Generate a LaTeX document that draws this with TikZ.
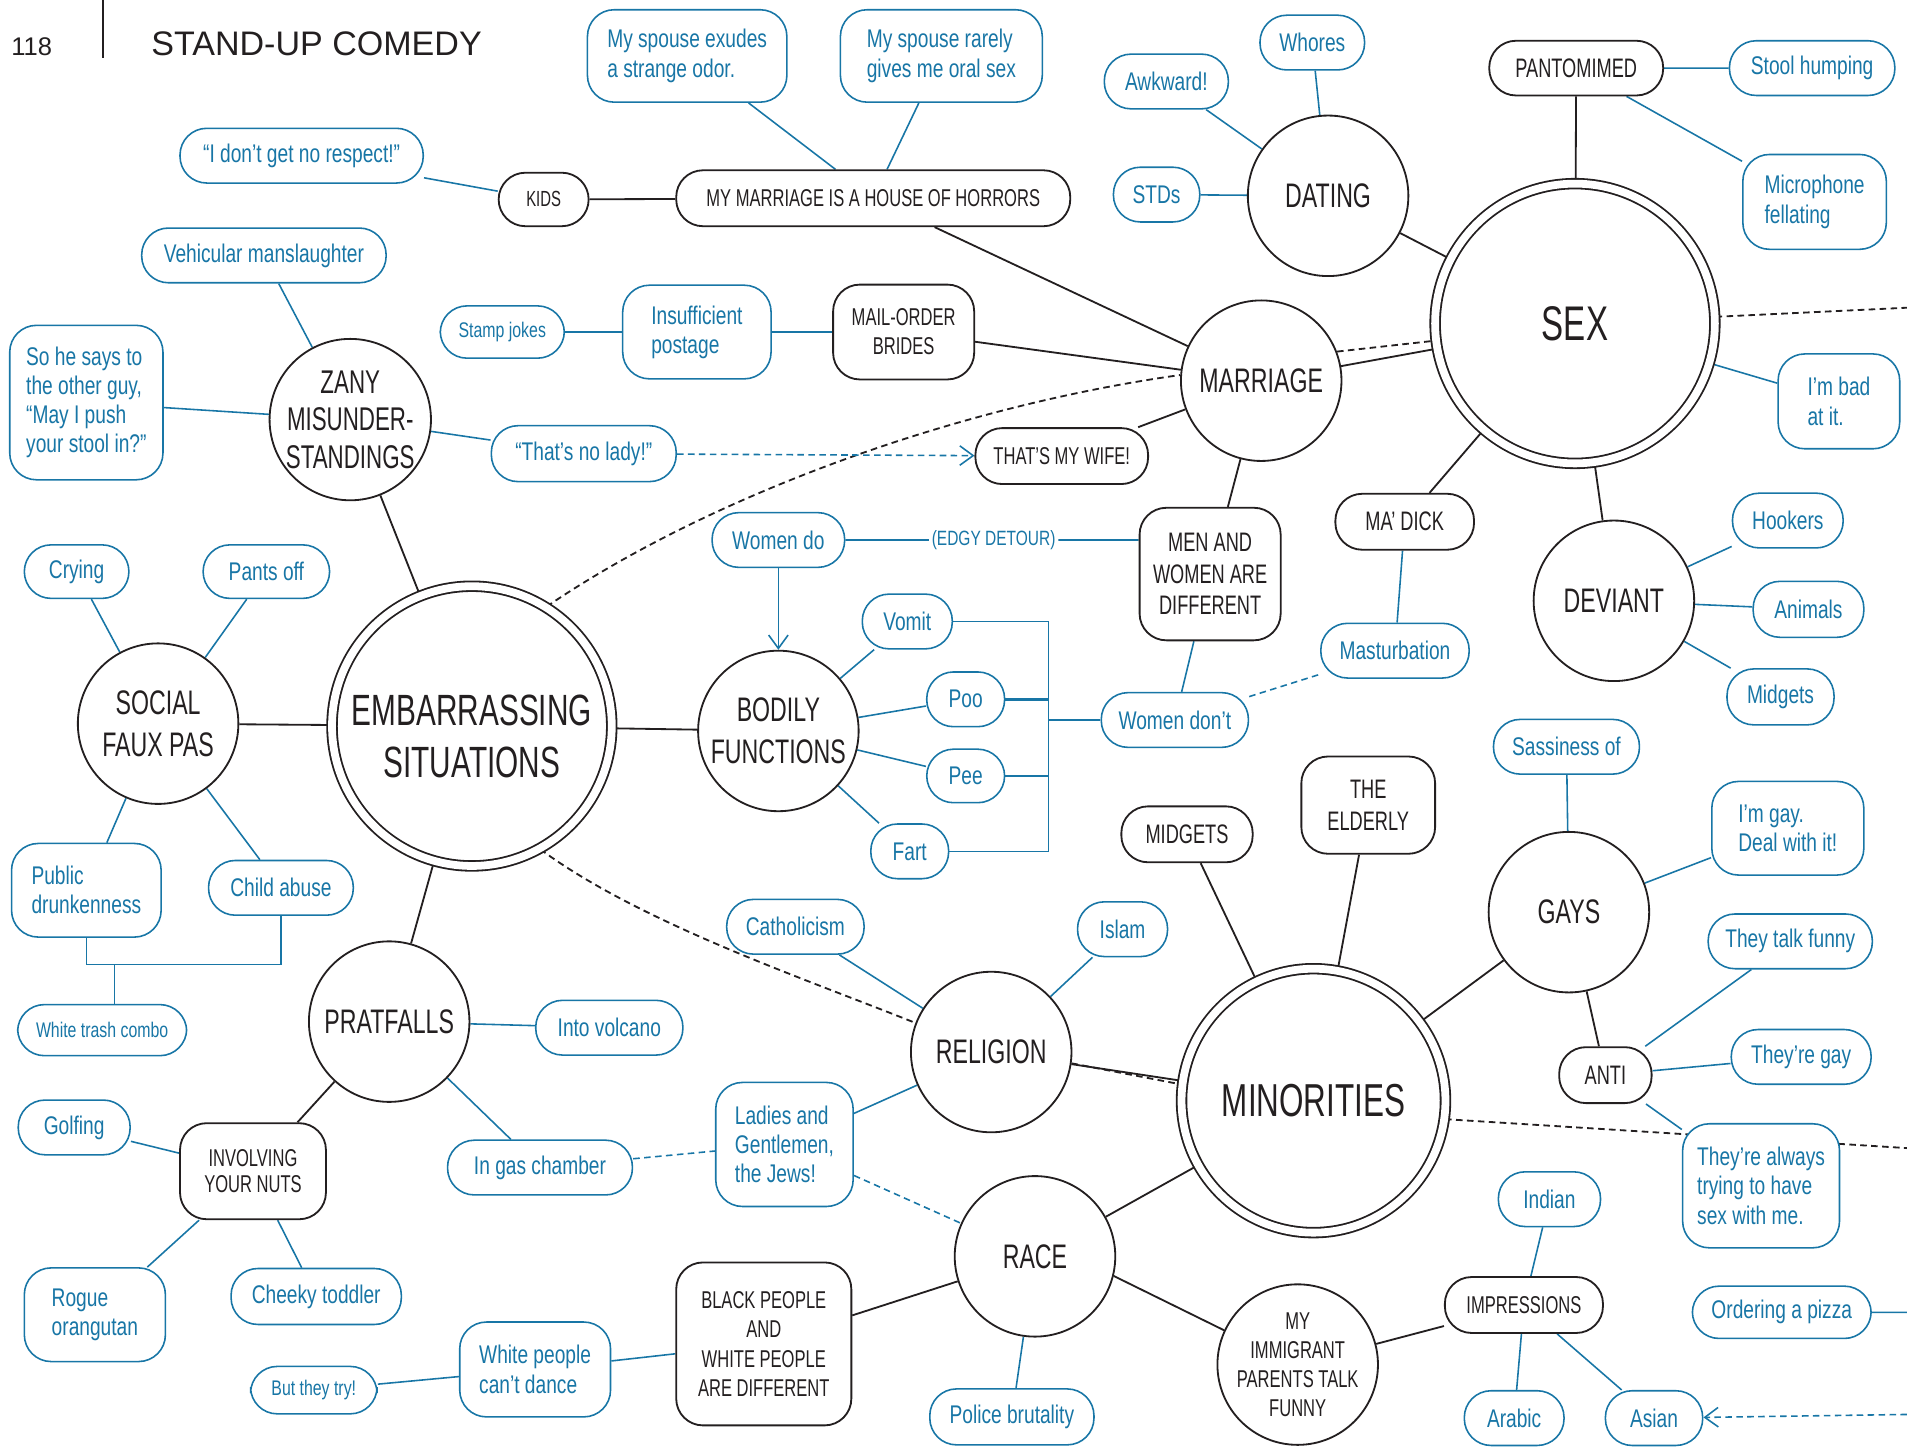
\documentclass[tikz,border=0pt]{standalone}
\usepackage{fontspec}
\setmainfont{Liberation Sans}
\newfontfamily\jokefont[FakeStretch=0.75]{Liberation Sans}
\newfontfamily\topicfont[FakeStretch=0.68]{Liberation Sans}
\usetikzlibrary{arrows.meta, backgrounds}
\definecolor{ink}{RGB}{35,31,32}
\definecolor{jokeblue}{RGB}{24,118,166}

\begin{document}
\begin{tikzpicture}[x=0.5pt, y=-0.5pt,
    sz/.style 2 args={minimum width=#1*0.5pt, minimum height=#2*0.5pt},
    topic/.style={circle, draw=ink, line width=0.75pt, fill=white, text=ink, align=center,
      inner sep=0pt, minimum size=66pt, font=\topicfont\fontsize{14}{16.5}\selectfont},
    big topic/.style={topic, double, double distance=3.2pt, minimum size=115pt},
    bit/.style={draw=ink, line width=0.75pt, fill=white, text=ink, rounded corners=11pt,
      align=center, inner sep=1pt, font=\topicfont\fontsize{10}{12}\selectfont},
    big bit/.style={bit, font=\topicfont\fontsize{11}{13}\selectfont},
    joke/.style={draw=jokeblue, line width=0.65pt, fill=white, text=jokeblue, rounded corners=11pt,
      align=left, inner sep=1pt, font=\jokefont\fontsize{10.5}{12}\selectfont},
    small joke/.style={joke, font=\jokefont\fontsize{8.7}{10}\selectfont},
    link/.style={draw=ink, line width=0.75pt},
    blink/.style={draw=jokeblue, line width=0.65pt},
    dashy/.style={dash pattern=on 2.7pt off 1.8pt},
    toward/.style={-{Straight Barb[length=5.5pt, width=8pt]}}
  ]
  \useasboundingbox (0,0) rectangle (1568,1189);

  % page head
  \node[text=ink, font=\fontsize{10.5}{12}\selectfont] (page) at (26,38) {118};
  \node[anchor=west, inner sep=0pt, text=ink, font=\fontsize{14}{16}\selectfont] (title) at (124,36) {STAND-UP COMEDY};
  \draw[ink, line width=0.9pt] (85,0) -- (85,48);

  % main topics
  \node[big topic, font=\topicfont\fontsize{18}{21.5}\selectfont] (emb) at (388,597) {\rule{0pt}{21pt}EMBARRASSING\\SITUATIONS};
  \node[big topic, font=\topicfont\fontsize{20}{24}\selectfont] (sex) at (1295,266) {SEX};
  \node[big topic, minimum size=108.5pt, font=\topicfont\fontsize{19}{22}\selectfont] (minor) at (1080,905) {MINORITIES};

  \node[topic] (marriage) at (1037,313) {MARRIAGE};
  \node[topic] (dating) at (1092,161) {DATING};
  \node[topic] (deviant) at (1327,494) {DEVIANT};
  \node[topic, font=\topicfont\fontsize{13.5}{15.5}\selectfont] (zany) at (288,345) {ZANY\\MISUNDER-\\STANDINGS};
  \node[topic, font=\topicfont\fontsize{14}{17}\selectfont] (social) at (130,595) {SOCIAL\\FAUX PAS};
  \node[topic, font=\topicfont\fontsize{14}{17}\selectfont] (bodily) at (640,601) {BODILY\\FUNCTIONS};
  \node[topic] (pratfalls) at (320,840) {PRATFALLS};
  \node[topic] (religion) at (815,865) {RELIGION};
  \node[topic] (race) at (851,1033) {RACE};
  \node[topic] (gays) at (1290,750) {GAYS};
  \node[topic, font=\topicfont\fontsize{10}{12}\selectfont] (immigrant) at (1067,1122) {MY\\IMMIGRANT\\PARENTS TALK\\FUNNY};

  % sub topics
  \node[bit, sz={74}{44}, font=\topicfont\fontsize{9}{11}\selectfont] (kids) at (447,164) {KIDS};
  \node[bit, sz={324}{46}] (horrors) at (718,163) {MY MARRIAGE IS A HOUSE OF HORRORS};
  \node[bit, sz={116}{78}] (brides) at (743,273) {MAIL-ORDER\\BRIDES};
  \node[bit, sz={142}{46}] (wife) at (873,375) {THAT’S MY WIFE!};
  \node[big bit, sz={116}{109}] (menwomen) at (995,472) {MEN AND\\WOMEN ARE\\DIFFERENT};
  \node[big bit, sz={114}{46}] (madick) at (1155,429) {MA’ DICK};
  \node[big bit, sz={143}{45}] (panto) at (1296,56) {PANTOMIMED};
  \node[big bit, sz={108}{46}] (midgets) at (976,686) {MIDGETS};
  \node[big bit, sz={110}{80}] (elderly) at (1125,662) {THE\\ELDERLY};
  \node[big bit, sz={76}{46}] (anti) at (1320,884) {ANTI};
  \node[bit, sz={120}{79}, font=\topicfont\fontsize{10}{11}\selectfont] (nuts) at (208,963) {INVOLVING\\YOUR NUTS};
  \node[bit, sz={144}{134}] (blackwhite) at (628,1105) {BLACK PEOPLE\\AND\\WHITE PEOPLE\\ARE DIFFERENT};
  \node[bit, sz={130}{46}] (impress) at (1253,1073) {IMPRESSIONS};

  % jokes
  \node[joke, sz={164}{76}] (odor) at (565,46) {My spouse exudes\\a strange odor.};
  \node[joke, sz={166}{76}] (oral) at (774,46) {My spouse rarely\\gives me oral sex};
  \node[joke, sz={86}{45}] (whores) at (1079,35) {Whores};
  \node[joke, sz={102}{45}] (awkward) at (959,67) {Awkward!};
  \node[joke, sz={71}{45}] (stds) at (951,160) {STDs};
  \node[joke, sz={136}{45}] (stool) at (1490,56) {Stool humping};
  \node[joke, sz={118}{78}] (micro) at (1492,166) {Microphone\\fellating};
  \node[joke, sz={100}{78}] (badatit) at (1512,330) {I’m bad\\at it.};
  \node[joke, sz={91}{45}] (hookers) at (1470,428) {Hookers};
  \node[joke, sz={91}{46}] (animals) at (1487,501) {Animals};
  \node[joke, sz={88}{46}] (midgetjoke) at (1464,573) {Midgets};
  \node[joke, sz={200}{45}] (respect) at (248,128) {“I don’t get no respect!”};
  \node[joke, sz={201}{45}] (vehicular) at (217,210) {Vehicular manslaughter};
  \node[small joke, sz={102}{43}] (stamp) at (413,273) {Stamp jokes};
  \node[joke, sz={122}{77}] (postage) at (573,273) {Insufficient\\postage};
  \node[joke, sz={126}{127}] (pushstool) at (71,331) {So he says to\\the other guy,\\“May I push\\your stool in?”};
  \node[joke, sz={152}{46}] (nolady) at (480,373) {“That’s no lady!”};
  \node[joke, sz={109}{45}] (womendo) at (640,444) {Women do};
  \node[text=jokeblue, inner sep=1pt, font=\jokefont\fontsize{8.5}{10}\selectfont] (edgy) at (817,444) {(EDGY DETOUR)};
  \node[joke, sz={74}{45}] (vomit) at (746,511) {Vomit};
  \node[joke, sz={64}{45}] (poo) at (794,575) {Poo};
  \node[joke, sz={64}{44}] (pee) at (794,638) {Pee};
  \node[joke, sz={64}{45}] (fart) at (748,700) {Fart};
  \node[joke, sz={121}{45}] (womendont) at (966,592) {Women don’t};
  \node[joke, sz={122}{45}] (mastur) at (1147,535) {Masturbation};
  \node[joke, sz={86}{44}] (crying) at (63,470) {Crying};
  \node[joke, sz={104}{44}] (pantsoff) at (219,470) {Pants off};
  \node[joke, sz={123}{77}] (drunk) at (71,732) {Public\\drunkenness};
  \node[joke, sz={119}{45}] (childabuse) at (231,730) {Child abuse};
  \node[small joke, sz={139}{42}] (trash) at (84,847) {White trash combo};
  \node[joke, sz={92}{45}] (golfing) at (61,927) {Golfing};
  \node[joke, sz={116}{77}] (orangutan) at (78,1081) {Rogue\\orangutan};
  \node[joke, sz={140}{46}] (toddler) at (260,1066) {Cheeky toddler};
  \node[small joke, sz={104}{39}] (theytry) at (258,1143) {But they try!};
  \node[joke, sz={124}{78}] (dance) at (440,1126) {White people\\can’t dance};
  \node[joke, sz={121}{45}] (volcano) at (501,845) {Into volcano};
  \node[joke, sz={152}{45}] (gas) at (444,960) {In gas chamber};
  \node[joke, sz={113}{45}] (catholic) at (654,762) {Catholicism};
  \node[joke, sz={74}{45}] (islam) at (923,764) {Islam};
  \node[joke, sz={113}{102}] (jews) at (645,941) {Ladies and\\Gentlemen,\\the Jews!};
  \node[joke, sz={135}{46}] (police) at (832,1165) {Police brutality};
  \node[joke, sz={120}{45}] (sassy) at (1288,614) {Sassiness of};
  \node[joke, sz={125}{77}] (dealwith) at (1470,681) {I’m gay.\\Deal with it!};
  \node[joke, sz={135}{45}] (talkfunny) at (1472,774) {They talk funny};
  \node[joke, sz={115}{45}] (theyregay) at (1481,869) {They’re gay};
  \node[joke, sz={129}{102}] (always) at (1448,975) {They’re always\\trying to have\\sex with me.};
  \node[joke, sz={84}{45}] (indian) at (1274,986) {Indian};
  \node[joke, sz={82}{45}] (arabic) at (1245,1166) {Arabic};
  \node[joke, sz={80}{45}] (asian) at (1360,1166) {Asian};
  \node[joke, sz={147}{43}] (pizza) at (1465,1079) {Ordering a pizza};

  \coordinate (sexout) at (1568,253);
  \coordinate (minorout) at (1568,944);
  \coordinate (pizzaout) at (1568,1079);
  \coordinate (asianin) at (1568,1163);
  \coordinate (bx) at (862,592);
  \coordinate (wt) at (94,793);

  \begin{scope}[on background layer]
    \draw[link] (kids) -- (horrors) (horrors) -- (marriage) (brides) -- (marriage)
      (wife) -- (marriage) (menwomen) -- (marriage) (marriage) -- (sex)
      (dating) -- (sex) (panto) -- (sex) (sex) -- (madick) (sex) -- (deviant);
    \draw[link] (zany) -- (emb) (social) -- (emb) (emb) -- (bodily) (emb) -- (pratfalls)
      (pratfalls) -- (nuts);
    \draw[link] (religion) -- (minor) (race) -- (minor) (race) -- (blackwhite)
      (race.-14) -- (immigrant.155) (immigrant) -- (impress) (minor) -- (midgets)
      (minor) -- (elderly) (minor) -- (gays) (gays) -- (anti);
    \draw[link, dashy] (marriage.21) -- (sex.187) (religion.-8) -- (minor.173)
      (sex) -- (sexout) (minor.-8) -- (minorout);
    \draw[link, dashy] (emb.58) .. controls (580,410) and (780,335) .. (marriage.176);
    \draw[link, dashy] (emb.-61) .. controls (527,759) and (660,804) .. (religion.159);

    \draw[blink] (odor) -- (horrors) (oral) -- (horrors) (respect) -- (kids)
      (whores) -- (dating) (awkward) -- (dating) (stds) -- (dating)
      (stool) -- (panto) (micro) -- (panto) (badatit) -- (sex)
      (hookers) -- (deviant) (animals) -- (deviant) (midgetjoke) -- (deviant)
      (mastur) -- (madick) (womendont) -- (menwomen);
    \draw[blink] (vehicular) -- (zany) (pushstool) -- (zany) (nolady) -- (zany)
      (stamp) -- (postage) (postage) -- (brides)
      (womendo) -- (edgy) (edgy) -- (edgy -| menwomen.west)
      (vomit) -- (bodily) (poo) -- (bodily) (pee) -- (bodily) (fart) -- (bodily);
    \draw[blink, toward] (womendo) -- (bodily);
    \draw[blink] (vomit.east) -- (vomit.east -| bx) -- (fart.east -| bx) -- (fart.east);
    \draw[blink, line width=1pt] (poo.east) -- (poo.east -| bx) (pee.east) -- (pee.east -| bx)
      (bx) -- (womendont);
    \draw[blink] (crying) -- (social) (pantsoff) -- (social) (drunk) -- (social)
      (childabuse) -- (social);
    \draw[blink] (drunk.south) -- (drunk.south |- wt) -| (childabuse.south);
    \draw[blink] (wt) -- (wt |- trash.north);
    \draw[blink] (golfing) -- (nuts) (orangutan) -- (nuts) (toddler) -- (nuts)
      (volcano) -- (pratfalls) (gas) -- (pratfalls) (theytry) -- (dance)
      (dance) -- (blackwhite) (catholic) -- (religion) (islam) -- (religion)
      (jews) -- (religion) (police) -- (race);
    \draw[blink] (sassy) -- (gays) (dealwith) -- (gays) (talkfunny) -- (anti)
      (theyregay) -- (anti) (always) -- (anti) (indian) -- (impress)
      (arabic) -- (impress) (asian) -- (impress) (pizza) -- (pizzaout);
    \draw[blink, dashy] (womendont) -- (mastur) (gas) -- (jews) (jews) -- (race);
    \draw[blink, dashy, toward] (nolady) -- (wife);
    \draw[blink, dashy, toward] (asianin) -- (asian);
  \end{scope}
\end{tikzpicture}
\end{document}
